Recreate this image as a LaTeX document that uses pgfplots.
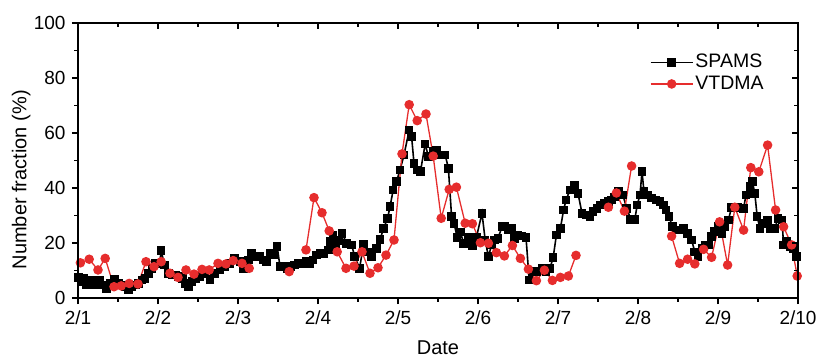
\documentclass[border=0pt]{standalone}
\usepackage{fontspec}
\setmainfont{Liberation Sans}
\usepackage{pgfplots}
\pgfplotsset{compat=1.18}
\definecolor{vred}{RGB}{230,45,45}
\begin{document}
\fontsize{19}{22}\selectfont
\begin{tikzpicture}
\pgfplotsset{
 common/.style={
  scale only axis, width=720pt, height=275pt,
  at={(0,0)}, anchor=south west,
  xmin=0, xmax=9, ymin=0, ymax=100,
  xtick={0,1,...,9}, minor xtick={0.5,1.5,...,8.5},
  ytick={0,20,...,100}, minor ytick={10,30,...,90},
  axis line style={line width=1.2pt},
  major tick length=6pt, minor tick length=3.5pt,
  every tick/.style={black, line width=1.1pt},
  tick label style={font=\fontsize{19}{22}\selectfont},
  /pgf/number format/assume math mode=true,
 }
}
\begin{axis}[common, xtick pos=left, ytick pos=left, tick align=outside,
 xticklabels={2/1,2/2,2/3,2/4,2/5,2/6,2/7,2/8,2/9,2/10},
 xlabel={Date}, ylabel={Number fraction (\%)},
 every axis x label/.style={at={(axis description cs:0.5,-0.182)}, anchor=center, font=\fontsize{20}{23}\selectfont},
 every axis y label/.style={at={(axis description cs:-0.079,0.43)}, rotate=90, anchor=center, font=\fontsize{20}{23}\selectfont},
 clip=false,
 legend style={draw=none, fill=none, at={(axis description cs:0.794,0.894)}, anchor=north west, inner sep=0pt, row sep=1pt, font=\fontsize{19.5}{22}\selectfont},
 legend cell align=left,
 legend image code/.code={\draw[mark repeat=2,mark phase=2,#1] plot coordinates {(0pt,0pt) (21pt,0pt) (42pt,0pt)};},
]
\addplot[black, line width=1.6pt, mark=square*, mark size=3.5pt] coordinates {
(0.01,7.5) (0.04,5.9) (0.07,7.2) (0.11,4.7) (0.17,6.3) (0.22,4.7) (0.27,6.5) (0.32,4.7) (0.36,3.5) (0.40,5.3)
(0.46,6.8) (0.51,5.3) (0.55,4.7) (0.59,4.1) (0.63,3.2) (0.675,4.1) (0.72,4.7) (0.76,5.3) (0.80,6.5) (0.84,7.2)
(0.88,9) (0.925,10.8) (0.97,12.6) (1.02,12.6) (1.04,17.2) (1.08,12) (1.13,9) (1.175,8.4) (1.22,8.4) (1.26,7.8)
(1.31,7.2) (1.34,5.3) (1.38,4.1) (1.425,5.9) (1.475,7.2) (1.525,7.8) (1.59,9) (1.65,6.8) (1.71,9) (1.775,10.2)
(1.84,11.4) (1.90,12.6) (1.96,14.4) (2.025,13.2) (2.07,10.8) (2.13,13.8) (2.17,16.2) (2.21,15) (2.27,15) (2.32,13.8)
(2.36,13.2) (2.40,16.2) (2.45,15.6) (2.49,18.7) (2.525,11.4) (2.57,11.4) (2.62,10.8) (2.66,11.4) (2.71,12) (2.75,12.6)
(2.81,12.6) (2.85,13.2) (2.90,12.6) (2.94,13.8) (2.98,15.6) (3.025,16.2) (3.075,16.2) (3.13,17.5) (3.16,20.5) (3.19,22.9)
(3.225,19) (3.26,21) (3.30,23.5) (3.36,19.9) (3.42,19.3) (3.46,15) (3.52,10.8) (3.57,19.6) (3.63,16.8) (3.67,15)
(3.73,18.1) (3.775,21.3) (3.82,25.3) (3.87,29) (3.90,33.2) (3.94,39.3) (3.98,42.3) (4.025,46.5) (4.075,52) (4.14,61.1)
(4.17,58.7) (4.20,49) (4.24,46.5) (4.28,45.9) (4.34,56) (4.38,51.4) (4.44,53.2) (4.48,53.8) (4.54,52) (4.59,52)
(4.63,47.2) (4.67,29.6) (4.70,27.2) (4.74,22.1) (4.78,24) (4.82,19.9) (4.88,22.1) (4.93,18.9) (4.98,22.1) (5.05,30.8)
(5.09,21.1) (5.13,15) (5.17,19.3) (5.21,21.1) (5.25,21.7) (5.30,25.9) (5.34,25.9) (5.38,24.7) (5.42,25.3) (5.46,21.7)
(5.50,22.9) (5.55,22.5) (5.60,22.1) (5.64,6.5) (5.69,9.6) (5.74,9.6) (5.80,10.8) (5.85,9.6) (5.90,10.8) (5.94,14.8)
(5.98,22.9) (6.03,25.3) (6.07,32) (6.10,35.6) (6.15,39.3) (6.21,41.1) (6.25,38.1) (6.30,30.8) (6.35,30.2) (6.40,29.6)
(6.44,31.4) (6.49,32.6) (6.53,33.8) (6.58,34.4) (6.63,35) (6.67,35.6) (6.71,36.8) (6.76,38.7) (6.81,37.5) (6.86,32.6)
(6.91,28.6) (6.96,28.6) (6.99,33.8) (7.025,37.5) (7.05,45.9) (7.075,38.7) (7.12,37.5) (7.17,36.3) (7.225,35.6) (7.275,35)
(7.32,33.8) (7.35,32) (7.39,29.6) (7.43,25.9) (7.48,24.7) (7.53,24.7) (7.57,25.3) (7.62,23.5) (7.67,21.1) (7.71,16.8)
(7.75,15) (7.80,18.1) (7.84,19.3) (7.88,19.3) (7.92,22.3) (7.96,24.1) (8.00,25.9) (8.05,23.5) (8.09,25.9) (8.13,28.4)
(8.17,33) (8.21,33) (8.25,33) (8.32,32.6) (8.35,37.5) (8.40,40.5) (8.43,42.3) (8.46,38.1) (8.49,29.6) (8.525,25.3)
(8.57,27.2) (8.62,28.1) (8.66,25.3) (8.71,25.3) (8.75,29) (8.80,28.4) (8.82,19.3) (8.86,20.5) (8.90,18.7) (8.94,18.1)
(8.98,15)
};
\addlegendentry{SPAMS}
\addplot[vred, line width=1.3pt, mark=*, mark size=4.1pt, unbounded coords=jump] coordinates {
(0.03,12.8) (0.14,14.1) (0.25,10.2) (0.34,14.4) (0.45,4.1) (0.54,4.4) (0.64,5.3) (0.75,5.1) (0.85,13.2) (0.95,11.4)
(1.04,13.2) (1.15,9) (1.25,7.5) (1.35,10.2) (1.45,8.7) (1.55,10.4) (1.64,10.2) (1.75,12.6) (1.85,12.4) (1.94,13.6)
(2.05,12.6) (2.14,10.8)
(2.4,nan)
(2.64,9.6)
(2.75,nan)
(2.85,17.5) (2.95,36.5) (3.05,31) (3.14,24.4) (3.24,16.8) (3.35,10.8) (3.45,11.6) (3.55,16.8) (3.65,9) (3.75,11)
(3.85,15.6) (3.95,21.1) (4.05,52.4) (4.14,70.3) (4.24,64.5) (4.35,66.9) (4.44,51.6) (4.54,29) (4.64,39.5) (4.73,40.3)
(4.84,27.2) (4.93,27) (5.03,20.1) (5.13,19.9) (5.23,16.5) (5.33,15.3) (5.43,19.1) (5.53,14.4) (5.63,10.5) (5.73,6.3)
(5.83,10.1) (5.93,6.4) (6.03,7.5) (6.13,8) (6.225,15.5)
(6.4,nan)
(6.63,33) (6.73,38.2) (6.83,31.6) (6.92,48)
(7.2,nan)
(7.42,22.5) (7.52,12.6) (7.62,14.1) (7.71,12.4) (7.82,17.7) (7.92,14.8) (8.02,27.7) (8.12,12) (8.21,33) (8.32,24.7)
(8.41,47.4) (8.51,45.9) (8.62,55.6) (8.72,32) (8.82,25.9) (8.92,19.3) (8.99,8)
};
\addlegendentry{VTDMA}
\end{axis}
\begin{axis}[common, xtick pos=right, ytick pos=right, tick align=inside,
 xticklabels={}, yticklabels={}]
\end{axis}
\pgfresetboundingbox
\path[use as bounding box] (-78pt,-62pt) rectangle (741pt,298pt);
\end{tikzpicture}
\end{document}
